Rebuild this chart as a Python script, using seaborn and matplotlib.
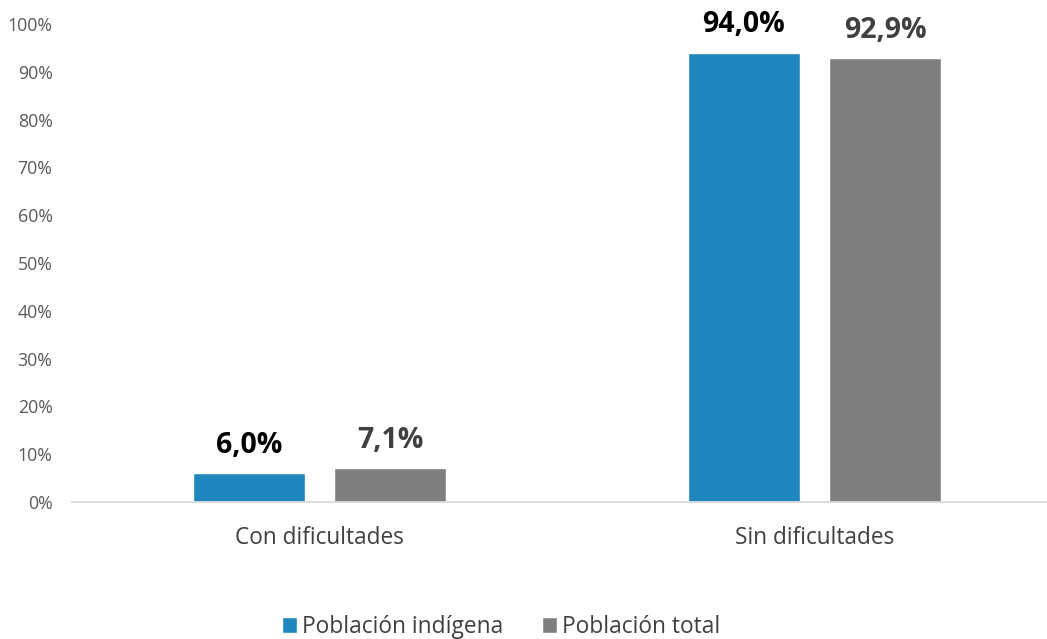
import matplotlib
matplotlib.use("Agg")
import matplotlib.pyplot as plt
import seaborn as sns
import pandas as pd

categories = ["Con dificultades", "Sin dificultades"]
series_names = ["Población indígena", "Población total"]
indigena = [6.0, 94.0]
total = [7.1, 92.9]
y_ticks = [0, 10, 20, 30, 40, 50, 60, 70, 80, 90, 100]

colors = ["#1F86BE", "#7F7F7F"]
label_colors = ["#000000", "#404040"]

df = pd.DataFrame({
    "cat": categories * 2,
    "serie": [series_names[0]] * 2 + [series_names[1]] * 2,
    "val": indigena + total,
})

sns.set_theme(style="white")
plt.rcParams["font.family"] = ["Open Sans", "DejaVu Sans"]

fig = plt.figure(figsize=(10.47, 6.39), dpi=100)
ax = fig.add_axes([72 / 1047, 1 - 502 / 639, 1 - 72 / 1047, (502 - 24) / 639])

sns.barplot(data=df, x="cat", y="val", hue="serie", palette=colors,
            width=0.57, gap=0.21, ax=ax, legend=True, saturation=1)

ax.set_ylim(0, 100)
ax.set_xlim(-0.5, (1047 - 72) / 495 - 0.5)
ax.set_yticks(y_ticks)
ax.set_yticklabels([f"{t}%" for t in y_ticks], color="#595959", fontsize=12.8)
ax.tick_params(axis="y", length=0, pad=14)
ax.tick_params(axis="x", length=0, pad=17, labelsize=16.3, labelcolor="#404040")
ax.set_xlabel("")
ax.set_ylabel("")
for s in ["top", "right", "left"]:
    ax.spines[s].set_visible(False)
ax.spines["bottom"].set_color("#D9D9D9")
ax.spines["bottom"].set_linewidth(1.3)

for i, cont in enumerate(ax.containers):
    labels = [f"{v:.1f}%".replace(".", ",") for v in cont.datavalues]
    ax.bar_label(cont, labels=labels, padding=9.5, fontsize=20.5, fontweight="bold",
                 color=label_colors[i])

handles, labs = ax.get_legend_handles_labels()
ax.legend_.remove()
fig.legend(handles, labs, loc="center", bbox_to_anchor=(501 / 1047, 1 - 627 / 639),
           ncol=2, frameon=False, fontsize=16.4, handlelength=0.66, handleheight=0.66,
           handletextpad=0.22, columnspacing=1.7, labelcolor="#404040",
           borderpad=0, borderaxespad=0)

fig.savefig("out.png", dpi=100)
